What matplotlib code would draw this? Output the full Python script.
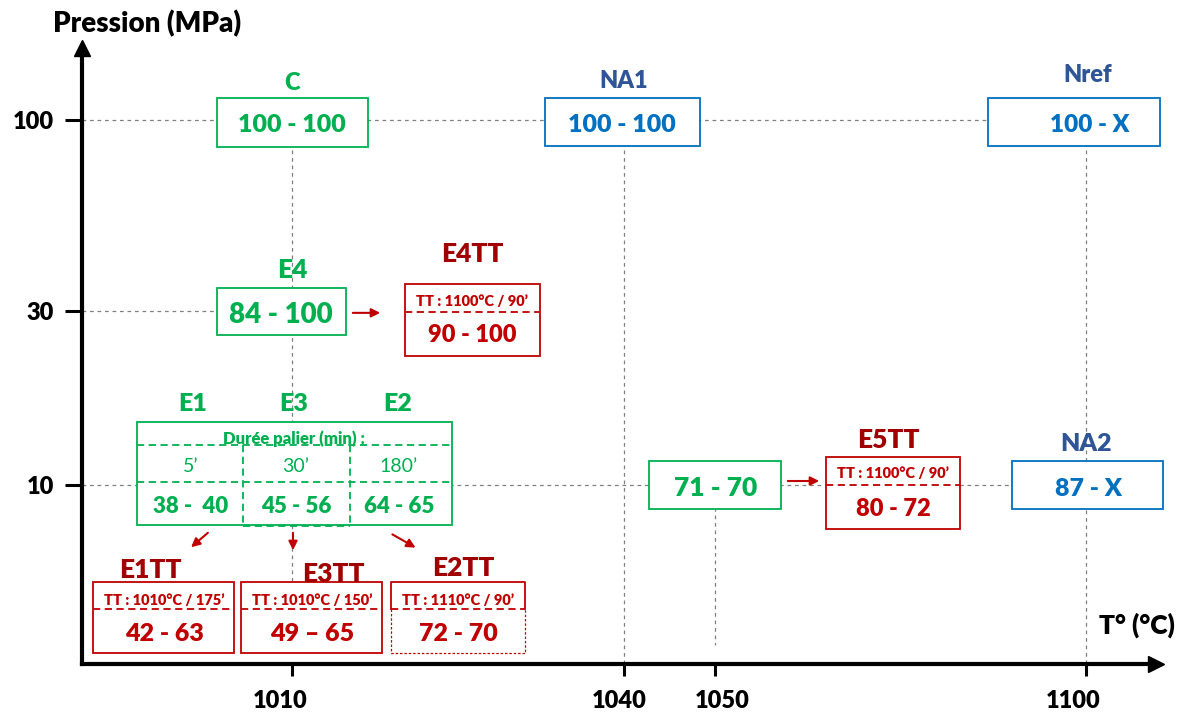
import numpy as np
import matplotlib
matplotlib.use("Agg")
import matplotlib.pyplot as plt
from matplotlib.patches import Rectangle, FancyArrowPatch
from matplotlib.lines import Line2D
from matplotlib.transforms import IdentityTransform
from matplotlib.ticker import NullLocator

plt.rcParams['font.family'] = ['Lato', 'DejaVu Sans']

# ---------------- data ----------------
temp_ticks = [1010, 1040, 1050, 1100]
temp_labels = ['1010', '1040', '1050', '1100']
press_ticks = [10, 30, 100]
press_labels = ['10', '30', '100']

# single boxes (reference / as-built samples)
single_names = ['C', 'NA1', 'Nref', 'E4', '', 'NA2']
single_T = [1010, 1040, 1100, 1010, 1050, 1100]
single_P = [100, 100, 100, 30, 10, 10]
single_vals = ['100 - 100', '100 - 100', '100 - X', '84 - 100', '71 - 70', '87 - X']
single_kind = ['green', 'blue', 'blue', 'green', 'green', 'blue']

# E1 / E3 / E2 table (T = 1010 °C, P = 10 MPa)
table_T, table_P = 1010, 10
table_names = ['E1', 'E3', 'E2']
table_durations = ['5\u2019', '30\u2019', '180\u2019']
table_vals = ['38 -  40', '45 - 56', '64 - 65']

# heat-treated samples
tt_names = ['E4TT', 'E5TT', 'E1TT', 'E3TT', 'E2TT']
tt_T = [1010, 1050, 1010, 1010, 1010]
tt_P = [30, 10, 10, 10, 10]
tt_conditions = ['TT : 1100°C / 90\u2019', 'TT : 1100°C / 90\u2019', 'TT : 1010°C / 175\u2019',
                 'TT : 1010°C / 150\u2019', 'TT : 1110°C / 90\u2019']
tt_vals = ['90 - 100', '80 - 72', '42 - 63', '49 \u2013 65', '72 - 70']

# ---------------- styles / layout ----------------
GREEN = '#00B050'
BLUE = '#0070C0'
BLUE_LBL = '#2F5597'
RED = '#C00000'
DRED = '#A00000'
GREY = '#808080'
BOLD = 'heavy'
KIND_COL = {'green': (GREEN, GREEN, GREEN), 'blue': (BLUE, BLUE, BLUE_LBL)}

W, H = 1186, 713
fig = plt.figure(figsize=(W / 100, H / 100), dpi=100)
ax_l, ax_r, ax_t, ax_b = 82, 1156, 48, 664
ax = fig.add_axes([ax_l / W, 1 - ax_b / H, (ax_r - ax_l) / W, (ax_b - ax_t) / H])

# non-linear temperature axis (schematic spacing)
T_anchor = [990, 1010, 1040, 1050, 1100, 1120]
X_anchor = [72, 292, 624, 715, 1086, 1234]
def fwd(t):
    return np.interp(t, T_anchor, X_anchor)
def inv(x):
    return np.interp(x, X_anchor, T_anchor)
ax.set_xscale('function', functions=(fwd, inv))
ax.set_xlim(inv(ax_l), inv(ax_r))
ax.set_yscale('log')
def p_of(py):
    return 10 ** (2 - (py - 120) / 365)
ax.set_ylim(p_of(ax_b), p_of(ax_t))

ax.set_xticks(temp_ticks, [])
ax.set_yticks(press_ticks, press_labels)
ax.xaxis.set_minor_locator(NullLocator())
ax.yaxis.set_minor_locator(NullLocator())
for s in ['top', 'right']:
    ax.spines[s].set_visible(False)
for s in ['left', 'bottom']:
    ax.spines[s].set_linewidth(3)
ax.tick_params(axis='x', direction='out', length=8.6, width=2.2)
ax.tick_params(axis='y', direction='out', length=12, width=2.2, pad=8, labelsize=17)
for lab in ax.get_yticklabels():
    lab.set_fontweight(BOLD)
# x tick labels (placed like the schematic, slightly off the ticks)
xlab_dx = [-12, -5, 7, -13]
for t, lab, dx in zip(temp_ticks, temp_labels, xlab_dx):
    ax.annotate(lab, xy=(t, 0), xycoords=('data', 'axes fraction'),
                xytext=(dx, -35), textcoords='offset pixels', ha='center', va='center_baseline',
                fontsize=17, fontweight=BOLD, color='black', annotation_clip=False)
ax.patch.set_alpha(0)
ax.plot([0], [1], marker='^', color='black', ms=11, transform=ax.transAxes, clip_on=False)
ax.plot([1], [0], marker='>', color='black', ms=11, transform=ax.transAxes, clip_on=False)

ID = IdentityTransform()

def anc(t, p):
    X, Y = ax.transData.transform((t, p))
    return X, H - Y

def rect(x0, y0, x1, y1, ec, lw=1.3, ls='-', fc='white', z=4):
    ax.add_patch(Rectangle((x0, H - y1), x1 - x0, y1 - y0, transform=ID, fc=fc,
                           ec=ec, lw=lw, ls=ls, zorder=z, clip_on=False))

def line(xs, ys, color, lw=1.3, ls='-', z=5):
    ax.add_line(Line2D(xs, [H - y for y in ys], transform=ID, color=color, lw=lw,
                       ls=ls, zorder=z, clip_on=False))

def txt(x, y, s, size, color, weight=BOLD):
    ax.text(x, H - (y + size * 0.5), s, transform=ID, ha='center', va='baseline',
            fontsize=size, color=color, fontweight=weight, zorder=6, clip_on=False)

def arrow(x0, y0, x1, y1):
    ax.add_patch(FancyArrowPatch((x0, H - y0), (x1, H - y1), transform=ID,
                                 arrowstyle='-|>', mutation_scale=13, color=RED,
                                 lw=1.5, zorder=6, clip_on=False))

DOT = (0, (3, 3))
DASH = (0, (4, 2.5))

# ---------------- guide lines ----------------
x0d = ax.get_xlim()[0]
y0d = ax.get_ylim()[0]
ax.plot([x0d, 1100], [100, 100], color=GREY, lw=0.9, ls=DOT, zorder=1, clip_on=False)
ax.plot([x0d, 1010], [30, 30], color=GREY, lw=0.9, ls=DOT, zorder=1, clip_on=False)
ax.plot([x0d, 1100], [10, 10], color=GREY, lw=0.9, ls=DOT, zorder=1, clip_on=False)
ax.plot([1040, 1040], [100, y0d], color=GREY, lw=0.9, ls=DOT, zorder=1, clip_on=False)
ax.plot([1100, 1100], [100, y0d], color=GREY, lw=0.9, ls=DOT, zorder=1, clip_on=False)
ax1010 = anc(1010, 100)
line([ax1010[0], ax1010[0]], [ax1010[1], 609], GREY, lw=0.9, ls=DOT, z=1)
a1050 = anc(1050, 10)
line([a1050[0], a1050[0]], [a1050[1], 645], GREY, lw=0.9, ls=DOT, z=1)

# ---------------- single boxes ----------------
# box offsets (x0, x1, y0, y1), label offset, value offset, value size, label size
single_layout = [
    ((-75, 76, -22, 27), (0, -38), (0, 3), 18, 17),
    ((-79, 76, -22, 26), (0, -41), (-2, 3), 18, 17),
    ((-98, 74, -22, 26), (2, -46), (4, 3), 17.5, 17),
    ((-75, 54, -23, 24), (0, -42), (-11, 2), 20, 19),
    ((-66, 66, -24, 24), (0, -42), (1, 2), 19, 18),
    ((-74, 77, -24, 24), (0, -43), (2, 2), 18, 18),
]
for name, t, p, val, kind, lay in zip(single_names, single_T, single_P, single_vals,
                                      single_kind, single_layout):
    cx, cy = anc(t, p)
    (bx0, bx1, by0, by1), (lx, ly), (vx, vy), vs, ls_ = lay
    ec, tc, lc = KIND_COL[kind]
    rect(cx + bx0, cy + by0, cx + bx1, cy + by1, ec)
    txt(cx + vx, cy + vy, val, vs, tc)
    if name:
        txt(cx + lx, cy + ly, name, ls_, lc)

# ---------------- E1/E3/E2 table ----------------
cx, cy = anc(table_T, table_P)
rect(cx - 155, cy - 63, cx + 160, cy + 40, GREEN)
line([cx - 155, cx + 160], [cy - 40, cy - 40], GREEN, ls=DASH)
line([cx - 49, cx - 49], [cy - 40, cy + 41], GREEN, ls=DASH)
line([cx + 58, cx + 58], [cy - 40, cy + 41], GREEN, ls=DASH)
line([cx - 49, cx + 58], [cy + 41, cy + 41], GREEN, ls=DASH)
line([cx - 155, cx + 160], [cy - 3, cy - 3], GREEN, ls=DASH)
txt(cx + 2, cy - 47, 'Durée palier (min) :', 12, GREEN)
col_x = [-101, 4, 107]
for name, dur, val, dx, lx in zip(table_names, table_durations, table_vals, col_x,
                                  [-99, 2, 106]):
    txt(cx + lx, cy - 83, name, 18, GREEN)
    txt(cx + dx, cy - 20, dur, 14, GREEN, weight='normal')
    txt(cx + dx, cy + 20, val, 16, GREEN)

# ---------------- heat-treated boxes ----------------
# box offsets (x0, x1, y0, y1), separator y, label offset, text x offset,
# small text y, big text y, big size
tt_layout = [
    ((113, 248, -27, 45), 1, (180, -58), 180, -10, 23, 17),
    ((111, 245, -28, 44), 0, (173, -47), 178, -12, 22, 17),
    ((-199, -58, 97, 168), 124, (-142, 83), -128, 115, 147, 18),
    ((-51, 90, 97, 168), 124, (41, 87), 20, 115, 147, 18),
    ((99, 233, 97, 168), 124, (171, 81), 166, 115, 147, 18),
]
for i, (name, t, p, cond, val, lay) in enumerate(zip(tt_names, tt_T, tt_P, tt_conditions,
                                                     tt_vals, tt_layout)):
    cx, cy = anc(t, p)
    (bx0, bx1, by0, by1), sep, (lx, ly), tx, sy, vy, vs = lay
    if name == 'E2TT':
        rect(cx + bx0, cy + by0, cx + bx1, cy + by1, 'none')
        line([cx + bx0, cx + bx0, cx + bx1, cx + bx1], [cy + sep, cy + by0, cy + by0, cy + sep], RED)
        line([cx + bx0, cx + bx0, cx + bx1, cx + bx1], [cy + sep, cy + by1, cy + by1, cy + sep],
             RED, lw=0.9, ls=(0, (2, 1.5)))
    else:
        rect(cx + bx0, cy + by0, cx + bx1, cy + by1, RED)
    line([cx + bx0, cx + bx1], [cy + sep, cy + sep], RED, ls=DASH)
    txt(cx + lx, cy + ly, name, 19, DRED)
    txt(cx + tx, cy + sy, cond, 10.5, RED)
    txt(cx + tx, cy + vy, val, vs, RED)

# ---------------- arrows ----------------
cx, cy = anc(1010, 30)
arrow(cx + 58, cy + 2, cx + 91, cy + 2)
cx, cy = anc(1050, 10)
arrow(cx + 70, cy - 4, cx + 107, cy - 4)
cx, cy = anc(1010, 10)
arrow(cx - 82, cy + 46, cx - 103, cy + 64)
arrow(cx + 1, cy + 45, cx + 1, cy + 68)
arrow(cx + 98, cy + 48, cx + 126, cy + 64)

# ---------------- axis titles ----------------
txt(147, 22, 'Pression (MPa)', 20, 'black')
txt(1137, 624, 'T° (°C)', 19, 'black')

fig.savefig('out.png', dpi=100)
